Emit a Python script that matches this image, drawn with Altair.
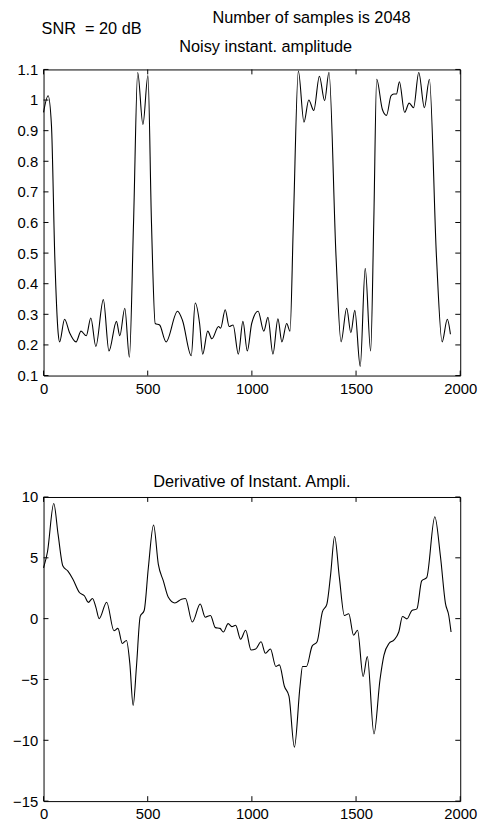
import altair as alt
import pandas as pd

# ---- data ----
amp_x = [0, 22, 38, 54, 70, 77, 101, 125, 156, 180, 205, 227, 251, 287, 314, 350, 366, 390, 412, 432,
         452, 477, 501, 518, 536, 557, 588, 643, 667, 709, 728, 749, 764, 788, 808, 840, 850, 872, 891,
         910, 935, 957, 978, 999, 1030, 1057, 1077, 1101, 1125, 1144, 1167, 1183, 1199, 1223, 1250, 1273,
         1297, 1324, 1349, 1370, 1404, 1428, 1455, 1475, 1494, 1520, 1544, 1570, 1585, 1599, 1626, 1646,
         1668, 1681, 1694, 1708, 1733, 1755, 1776, 1801, 1828, 1852, 1886, 1913, 1938, 1953]
amp_y = [0.96, 1.014, 0.917, 0.487, 0.24, 0.21, 0.284, 0.24, 0.21, 0.245, 0.23, 0.288, 0.195, 0.348, 0.18,
         0.277, 0.23, 0.32, 0.16, 0.6, 1.09, 0.92, 1.08, 0.6, 0.27, 0.265, 0.21, 0.31, 0.28, 0.165, 0.337,
         0.27, 0.17, 0.245, 0.22, 0.26, 0.255, 0.315, 0.26, 0.265, 0.17, 0.277, 0.18, 0.27, 0.31, 0.245,
         0.29, 0.17, 0.285, 0.21, 0.27, 0.245, 0.595, 1.095, 0.928, 1.0, 0.966, 1.078, 0.998, 1.091, 0.487,
         0.21, 0.32, 0.24, 0.313, 0.13, 0.45, 0.18, 0.6, 1.068, 0.97, 0.95, 1.014, 1.02, 1.02, 1.06, 0.96,
         0.99, 0.975, 1.09, 0.975, 1.068, 0.487, 0.21, 0.284, 0.235]

der_x = [0, 19, 49, 70, 93, 117, 141, 172, 196, 215, 235, 251, 267, 303, 338, 357, 378, 398, 414, 430,
         446, 464, 483, 503, 528, 551, 575, 599, 630, 662, 681, 714, 752, 776, 801, 825, 847, 863, 886,
         904, 922, 946, 970, 996, 1018, 1044, 1065, 1089, 1115, 1132, 1156, 1178, 1204, 1231, 1243, 1262,
         1289, 1313, 1338, 1360, 1378, 1397, 1420, 1444, 1465, 1488, 1507, 1534, 1554, 1586, 1615, 1634,
         1658, 1681, 1705, 1723, 1744, 1768, 1792, 1815, 1839, 1878, 1905, 1929, 1945, 1956]
der_y = [4.18, 5.5, 9.46, 6.9, 4.32, 3.9, 3.24, 2.15, 1.88, 1.34, 1.66, 0.95, 0.0, 1.35, -1.0, -0.8, -2.04,
         -1.8, -3.66, -7.13, -3.93, 0.18, 0.67, 4.18, 7.7, 4.46, 3.1, 1.75, 1.29, 1.6, 1.66, -0.28, 1.2,
         0.12, 0.26, -0.74, -0.8, -1.1, -0.41, -0.66, -0.55, -1.69, -0.96, -2.58, -2.5, -1.9, -2.85, -2.5,
         -3.93, -3.8, -5.56, -6.37, -10.56, -5.56, -3.93, -3.93, -2.26, -1.9, 0.53, 1.2, 3.64, 6.75, 3.37,
         0.26, 0.4, -1.36, -0.96, -4.75, -3.12, -9.48, -5.0, -3.0, -2.04, -1.77, -1.1, 0.18, -0.02, 0.67,
         0.8, 3.1, 3.37, 8.38, 5.13, 1.26, 0.26, -1.1]

x_ticks = [0, 500, 1000, 1500, 2000]
amp_ticks = [0.1, 0.2, 0.3, 0.4, 0.5, 0.6, 0.7, 0.8, 0.9, 1.0, 1.1]
der_ticks = [-15, -10, -5, 0, 5, 10]
amp_domain = [0.1, 1.1]
der_domain = [-15, 10]
x_domain = [0, 2000]

snr_text = ["SNR\u00a0 = 20 dB"]
samples_text = ["Number of samples is 2048"]
title_top = ["Noisy instant. amplitude"]
title_bottom = ["Derivative of Instant. Ampli."]

FONT = "Liberation Sans"
W = 422
H1 = 310
H2 = 308
TL = 5  # inward tick length

xs = alt.Scale(domain=x_domain, nice=False, zero=False)


def panel(xv, yv, yticks, ydomain, H, fmt):
    ys = alt.Scale(domain=ydomain, nice=False, zero=False)
    xax = alt.Axis(values=x_ticks, title=None, grid=False, domain=False, ticks=False,
                   labelFont=FONT, labelFontSize=15, labelColor="black", labelPadding=6,
                   labelFlush=False, format="d")
    yax = alt.Axis(values=yticks, title=None, grid=False, domain=False, ticks=False,
                   labelFont=FONT, labelFontSize=15, labelColor="black", labelPadding=6,
                   format=fmt, minExtent=30, maxExtent=30)
    df = pd.DataFrame({"x": xv, "y": yv})
    line = alt.Chart(df).mark_line(color="black", strokeWidth=1.1, interpolate="monotone").encode(
        x=alt.X("x:Q", scale=xs, axis=xax),
        y=alt.Y("y:Q", scale=ys, axis=yax),
    )
    xt = pd.DataFrame({"x": x_ticks})
    yt = pd.DataFrame({"y": yticks})
    tb = alt.Chart(xt).mark_rule(color="black", strokeWidth=1).encode(
        x=alt.X("x:Q", scale=xs, axis=xax), y=alt.value(H), y2=alt.value(H - TL))
    tt = alt.Chart(xt).mark_rule(color="black", strokeWidth=1).encode(
        x=alt.X("x:Q", scale=xs, axis=xax), y=alt.value(0), y2=alt.value(TL))
    tl = alt.Chart(yt).mark_rule(color="black", strokeWidth=1).encode(
        y=alt.Y("y:Q", scale=ys, axis=yax), x=alt.value(0), x2=alt.value(TL))
    tr = alt.Chart(yt).mark_rule(color="black", strokeWidth=1).encode(
        y=alt.Y("y:Q", scale=ys, axis=yax), x=alt.value(W - TL), x2=alt.value(W))
    return [line, tb, tt, tl, tr]


def label(txt, x, y, align):
    return alt.Chart(pd.DataFrame({"t": txt})).mark_text(
        font=FONT, fontSize=16.5, color="black", align=align, baseline="middle").encode(
        text="t:N", x=alt.value(x), y=alt.value(y))


top = alt.layer(
    *panel(amp_x, amp_y, amp_ticks, amp_domain, H1, "~g"),
    label(snr_text, -2, -41, "left"),
    label(samples_text, 171, -52, "left"),
    label(title_top, 225, -23, "center"),
).properties(width=W, height=H1)

bottom = alt.layer(
    *panel(der_x, der_y, der_ticks, der_domain, H2, "~g"),
    label(title_bottom, 211, -15, "center"),
).properties(width=W, height=H2)

chart = alt.vconcat(top, bottom, spacing=77).properties(
    padding={"left": 4, "top": -4, "right": 0, "bottom": 0},
    background="white",
).configure_view(stroke="black", strokeWidth=1)

chart.save("out.html", embed_options={"renderer": "svg", "actions": False})
